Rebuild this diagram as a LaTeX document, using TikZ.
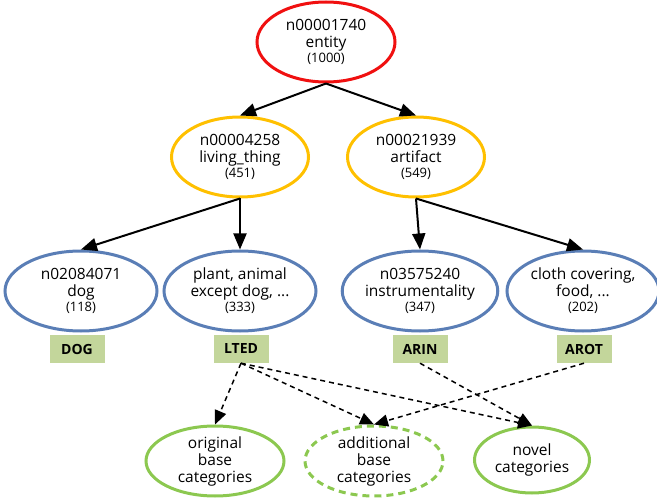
\documentclass[tikz,border=0pt]{standalone}
\usepackage{fontspec}
\setmainfont{Open Sans}
\usetikzlibrary{shapes.geometric,arrows.meta}

\definecolor{rootred}{RGB}{240,16,16}
\definecolor{midorange}{RGB}{255,192,0}
\definecolor{leafblue}{RGB}{90,126,182}
\definecolor{splitgreen}{RGB}{140,200,80}
\definecolor{taggreen}{RGB}{195,214,155}

\newcommand{\cnt}[1]{{\fontsize{13}{14}\selectfont(#1)}}

\begin{document}
\begin{tikzpicture}[x=1pt,y=-1pt,
        font = \fontsize{15.5}{17}\selectfont,
        cat/.style = {ellipse,
            line width = 3pt,
            align = center,
            inner sep = 0pt,
            minimum height = 80pt},
        root/.style = {cat, draw = rootred, minimum width = 138pt},
        mid/.style = {cat, draw = midorange, minimum width = 137pt},
        leaf/.style = {cat, draw = leafblue, minimum width = 152pt},
        split/.style = {cat, draw = splitgreen, minimum width = 138pt,
            minimum height = 68pt},
        tag/.style = {fill = taggreen,
            font = \fontsize{14}{14}\selectfont\bfseries,
            minimum width = 55pt,
            minimum height = 28pt,
            inner sep = 0pt},
        link/.style = {line width = 2pt,
            -{Triangle[length=16pt,width=13pt]}},
        dlink/.style = {line width = 1.5pt,
            dash pattern = on 5pt off 4pt,
            -{Triangle[length=14pt,width=12pt]}}]

    \useasboundingbox (0,0) rectangle (657,500);

    % Root
    \node[root] (entity) at (326,42) {n00001740\\entity\\[-2pt]\cnt{1000}};

    % Second level
    \node[mid] (living) at (240,157) {n00004258\\living\_thing\\[-2pt]\cnt{451}};
    \node[mid] (artifact) at (416,157) {n00021939\\artifact\\[-2pt]\cnt{549}};

    % Third level
    \node[leaf] (dog) at (81,291) {n02084071\\dog\\[-2pt]\cnt{118}};
    \node[leaf] (lted) at (240,291) {plant, animal\\except dog, ...\\[-2pt]\cnt{333}};
    \node[leaf] (arin) at (420,291) {n03575240\\instrumentality\\[-2pt]\cnt{347}};
    \node[leaf] (arot) at (583,291) {cloth covering,\\food, ...\\[-2pt]\cnt{202}};

    % Tags
    \node[tag] (tdog) at (77,349) {DOG};
    \node[tag] (tlted) at (241,349) {LTED};
    \node[tag] (tarin) at (420,349) {ARIN};
    \node[tag] (tarot) at (584,349) {AROT};

    % Splits
    \node[split] (orig) at (215,461) {original\\base\\categories};
    \node[split, dash pattern = on 7pt off 5pt] (add) at (374,461) {additional\\base\\categories};
    \node[split, minimum width = 115pt, minimum height = 66pt] (novel) at (532,460) {novel\\categories};

    % Hierarchy
    \draw[link] (entity.south) -- (living.north);
    \draw[link] (entity.south) -- (artifact.north);
    \draw[link] (living.south) -- (dog.north);
    \draw[link] (living.south) -- (lted.north);
    \draw[link] (artifact.south) -- (arin.north);
    \draw[link] (artifact.south) -- (arot.north);

    % Assignment
    \draw[dlink] (tlted.south) -- (orig.north);
    \draw[dlink] (tlted.south) -- (add.north);
    \draw[dlink] (tlted.south) -- (novel.north);
    \draw[dlink] (tarin.south) -- (novel.north);
    \draw[dlink] (tarot.south) -- (add.north);

\end{tikzpicture}
\end{document}
